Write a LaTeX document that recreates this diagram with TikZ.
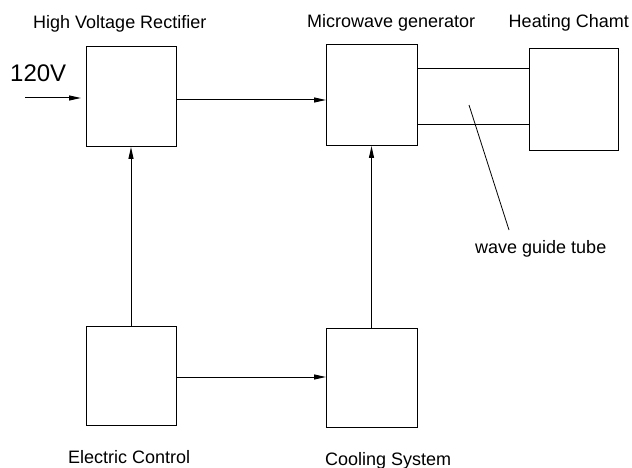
\documentclass[tikz,border=0pt]{standalone}
\usepackage{fontspec}
\setmainfont{Liberation Sans}
\usetikzlibrary{arrows.meta}
\begin{document}
\begin{tikzpicture}[x=1pt,y=-1pt,
  box/.style={draw, line width=1pt, inner sep=0pt, outer sep=0pt},
  arr/.style={line width=1pt, -{Triangle[length=12pt,width=5pt]}},
  plain/.style={line width=1pt},
  thin/.style={line width=0.8pt},
  lbl/.style={inner sep=0pt, anchor=base west, font=\fontsize{18}{20}\selectfont},
  ]
\useasboundingbox (0,0) rectangle (632,468);
\fill[white] (0,0) rectangle (632,468);

% boxes
\node[box, minimum width=90pt, minimum height=100pt] (hv) at (131,97) {};
\node[box, minimum width=91pt, minimum height=101pt] (mw) at (371.5,95.5) {};
\node[box, minimum width=89pt, minimum height=102pt] (hc) at (573.5,100) {};
\node[box, minimum width=90pt, minimum height=99pt] (ec) at (131,375.5) {};
\node[box, minimum width=91pt, minimum height=99pt] (cs) at (371.5,377.5) {};

% labels
\node[lbl] (thv) at (33,29) {High Voltage Rectifier};
\node[lbl] (tmw) at (307,28) {Microwave generator};
\node[lbl, anchor=base east] (thc) at (629,28) {Heating Chamt};
\node[lbl] (tec) at (68,463) {Electric Control};
\node[lbl] (tcs) at (325,465) {Cooling System};
\node[lbl] (twg) at (475,253) {wave guide tube};
\node[inner sep=0pt, anchor=base west, font=\fontsize{24}{26}\selectfont] (tv) at (10,82) {120V};

% connectors
\coordinate (vin) at (25,98);
\draw[arr, shorten >=5pt] (vin) -- (vin -| hv.west);
\coordinate (r1) at (0,100);
\draw[arr] (r1 -| hv.east) -- (r1 -| mw.west);
\draw[arr] (ec.north) -- (hv.south);
\draw[arr] (cs.north) -- (mw.south);
\coordinate (r2) at (0,377);
\draw[arr] (r2 -| ec.east) -- (r2 -| cs.west);

% wave guide
\coordinate (w1) at (0,69);
\coordinate (w2) at (0,125);
\draw[plain] (w1 -| mw.east) -- (w1 -| hc.west);
\draw[plain] (w2 -| mw.east) -- (w2 -| hc.west);
\coordinate (lead1) at (469,105);
\coordinate (lead2) at (509,230);
\draw[thin] (lead1) -- (lead2);
\end{tikzpicture}
\end{document}
